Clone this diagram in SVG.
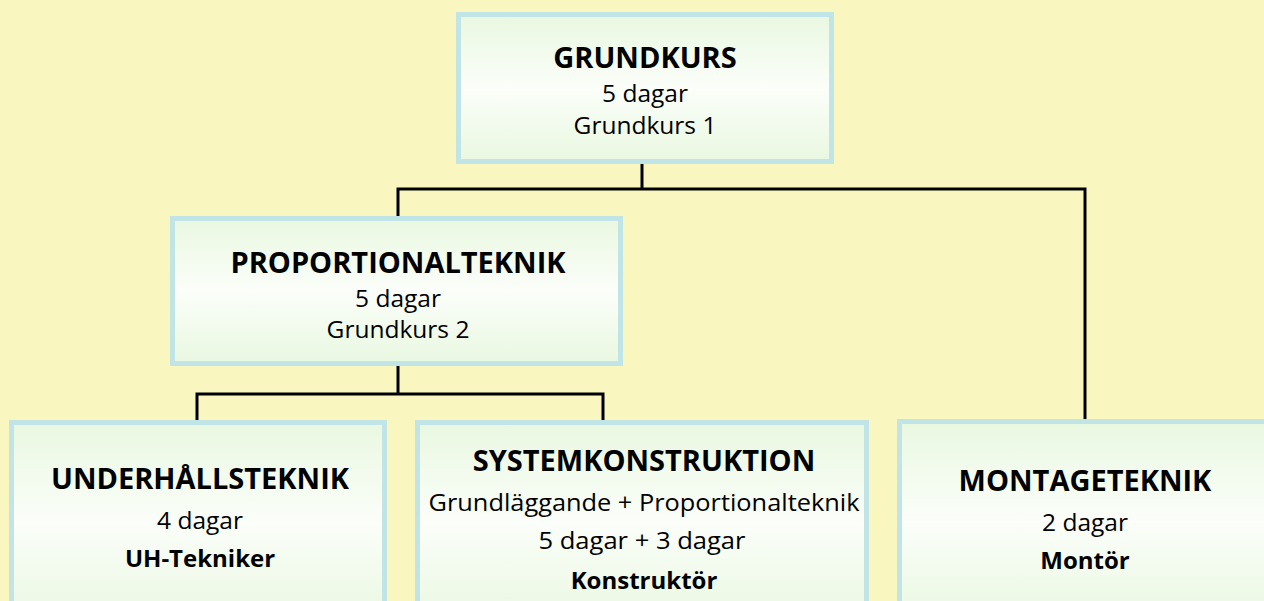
<svg xmlns="http://www.w3.org/2000/svg" width="1264" height="601" viewBox="0 0 1264 601">
<defs>
<linearGradient id="g" x1="0" y1="0" x2="0" y2="1">
<stop offset="0" stop-color="#e9f8e1"/>
<stop offset="0.5" stop-color="#fbfef9"/>
<stop offset="1" stop-color="#e9f8e1"/>
</linearGradient>
<style>
.box{fill:url(#g);stroke:#c1e5e6;stroke-width:5}
.t{font-family:"Open Sans","Noto Sans",sans-serif;text-anchor:middle;fill:#000}
.h{font-size:29px;font-weight:bold}
.r{font-size:24.5px}
.b{font-size:24px;font-weight:bold}
.c{fill:none;stroke:#000;stroke-width:3}
</style>
</defs>
<rect width="1264" height="601" fill="#f9f6c0"/>
<g id="connectors">
<polyline class="c" points="642,164 642,189"/>
<polyline class="c" points="398,216 398,189 1085,189 1085,419"/>
<polyline class="c" points="398,366 398,394"/>
<polyline class="c" points="197,420 197,394 603,394 603,420"/>
</g>
<g id="grundkurs">
<rect class="box" x="458.5" y="14.5" width="373" height="147"/>
<text class="t h" x="645" y="68">GRUNDKURS</text>
<text class="t r" x="645" y="102">5 dagar</text>
<text class="t r" x="645" y="134">Grundkurs 1</text>
</g>
<g id="proportionalteknik">
<rect class="box" x="172.5" y="218.5" width="448" height="145"/>
<text class="t h" x="398" y="273">PROPORTIONALTEKNIK</text>
<text class="t r" x="398" y="307">5 dagar</text>
<text class="t r" x="398" y="338">Grundkurs 2</text>
</g>
<g id="underhallsteknik">
<rect class="box" x="11.5" y="422.5" width="373" height="200"/>
<text class="t h" x="200" y="489">UNDERHÅLLSTEKNIK</text>
<text class="t r" x="200" y="529">4 dagar</text>
<text class="t b" x="200" y="567">UH-Tekniker</text>
</g>
<g id="systemkonstruktion">
<rect class="box" x="417.5" y="422.5" width="449" height="200"/>
<text class="t h" x="644" y="471">SYSTEMKONSTRUKTION</text>
<text class="t r" x="644" y="511" textLength="431" lengthAdjust="spacingAndGlyphs">Grundläggande + Proportionalteknik</text>
<text class="t r" x="642" y="549" textLength="207" lengthAdjust="spacingAndGlyphs">5 dagar + 3 dagar</text>
<text class="t b" x="644" y="589">Konstruktör</text>
</g>
<g id="montageteknik">
<rect class="box" x="899.5" y="421.5" width="380" height="200"/>
<text class="t h" x="1085" y="491">MONTAGETEKNIK</text>
<text class="t r" x="1085" y="531">2 dagar</text>
<text class="t b" x="1085" y="569">Montör</text>
</g>
</svg>
